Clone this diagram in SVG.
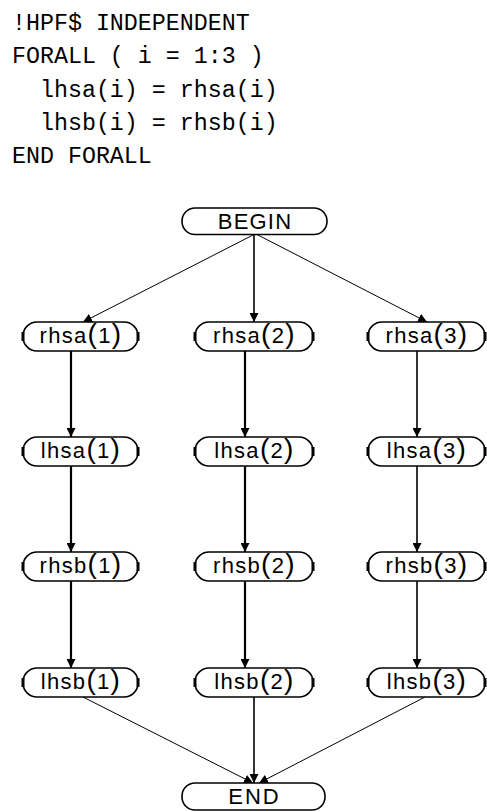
<svg xmlns="http://www.w3.org/2000/svg" width="487" height="811" viewBox="0 0 487 811">
<defs>
<style>
.code{font-family:"Liberation Mono","DejaVu Sans Mono",monospace;font-size:23.3px;fill:#000;white-space:pre}
.box{fill:#fff;stroke:#000;stroke-width:1.6}
.stub{stroke:#000;stroke-width:3}
.lbl{font-family:"Liberation Sans",Arial,sans-serif;font-size:22px;fill:#000;text-anchor:middle;letter-spacing:1.3px}
.par{font-size:28px}
.e{fill:none;stroke:#000}
.thick{stroke-width:2.2}
.med{stroke-width:1.6}
.thin{stroke-width:1}
</style>
<marker id="ah" viewBox="0 0 10 10" refX="10" refY="5" markerWidth="9" markerHeight="9" markerUnits="userSpaceOnUse" orient="auto">
<path d="M0,0 L10,5 L0,10 z" fill="#000"/>
</marker>
</defs>
<g id="code">
<text class="code" x="12" y="30">!HPF$ INDEPENDENT</text>
<text class="code" x="12" y="63">FORALL ( i = 1:3 )</text>
<text class="code" x="12" y="97">  lhsa(i) = rhsa(i)</text>
<text class="code" x="12" y="130">  lhsb(i) = rhsb(i)</text>
<text class="code" x="12" y="163">END FORALL</text>
</g>
<g id="edges">
<line class="e thin" x1="255" y1="234" x2="83" y2="322" marker-end="url(#ah)"/>
<line class="e med" x1="254" y1="234" x2="254" y2="322" marker-end="url(#ah)"/>
<line class="e thin" x1="256" y1="234" x2="427" y2="322" marker-end="url(#ah)"/>
<line class="e thick" x1="71" y1="351" x2="71" y2="437" marker-end="url(#ah)"/>
<line class="e thick" x1="71" y1="466" x2="71" y2="552" marker-end="url(#ah)"/>
<line class="e thick" x1="71" y1="581" x2="71" y2="668" marker-end="url(#ah)"/>
<line class="e thick" x1="245" y1="351" x2="245" y2="437" marker-end="url(#ah)"/>
<line class="e thick" x1="245" y1="466" x2="245" y2="552" marker-end="url(#ah)"/>
<line class="e thick" x1="245" y1="581" x2="245" y2="668" marker-end="url(#ah)"/>
<line class="e med" x1="417" y1="351" x2="417" y2="437" marker-end="url(#ah)"/>
<line class="e med" x1="417" y1="466" x2="417" y2="552" marker-end="url(#ah)"/>
<line class="e med" x1="417" y1="581" x2="417" y2="668" marker-end="url(#ah)"/>
<line class="e thin" x1="83" y1="697" x2="253" y2="783" marker-end="url(#ah)"/>
<line class="e med" x1="254" y1="697" x2="254" y2="783" marker-end="url(#ah)"/>
<line class="e thin" x1="425" y1="697" x2="259" y2="783" marker-end="url(#ah)"/>
</g>
<g id="begin">
<rect class="box" x="182" y="208" width="145" height="26.5" rx="13"/>
<text class="lbl" x="255" y="229" style="letter-spacing:1.2px">BEGIN</text>
</g>
<g id="rhsa1">
<rect class="box" x="23" y="322" width="115" height="29" rx="14"/>
<line class="stub" x1="23" y1="332" x2="23" y2="341"/><line class="stub" x1="138" y1="332" x2="138" y2="341"/>
<text class="lbl" x="81" y="343">rhsa<tspan class="par">(</tspan>1<tspan class="par">)</tspan></text>
</g>
<g id="rhsa2">
<rect class="box" x="195" y="322" width="118" height="29" rx="14"/>
<line class="stub" x1="195" y1="332" x2="195" y2="341"/><line class="stub" x1="313" y1="332" x2="313" y2="341"/>
<text class="lbl" x="254.5" y="343">rhsa<tspan class="par">(</tspan>2<tspan class="par">)</tspan></text>
</g>
<g id="rhsa3">
<rect class="box" x="368" y="322" width="117" height="29" rx="14"/>
<line class="stub" x1="368" y1="332" x2="368" y2="341"/><line class="stub" x1="485" y1="332" x2="485" y2="341"/>
<text class="lbl" x="427" y="343">rhsa<tspan class="par">(</tspan>3<tspan class="par">)</tspan></text>
</g>
<g id="lhsa1">
<rect class="box" x="23" y="437" width="115" height="29" rx="14"/>
<line class="stub" x1="23" y1="447" x2="23" y2="456"/><line class="stub" x1="138" y1="447" x2="138" y2="456"/>
<text class="lbl" x="81" y="458">lhsa<tspan class="par">(</tspan>1<tspan class="par">)</tspan></text>
</g>
<g id="lhsa2">
<rect class="box" x="195" y="437" width="118" height="29" rx="14"/>
<line class="stub" x1="195" y1="447" x2="195" y2="456"/><line class="stub" x1="313" y1="447" x2="313" y2="456"/>
<text class="lbl" x="254.5" y="458">lhsa<tspan class="par">(</tspan>2<tspan class="par">)</tspan></text>
</g>
<g id="lhsa3">
<rect class="box" x="368" y="437" width="117" height="29" rx="14"/>
<line class="stub" x1="368" y1="447" x2="368" y2="456"/><line class="stub" x1="485" y1="447" x2="485" y2="456"/>
<text class="lbl" x="427" y="458">lhsa<tspan class="par">(</tspan>3<tspan class="par">)</tspan></text>
</g>
<g id="rhsb1">
<rect class="box" x="23" y="552" width="115" height="29" rx="14"/>
<line class="stub" x1="23" y1="562" x2="23" y2="571"/><line class="stub" x1="138" y1="562" x2="138" y2="571"/>
<text class="lbl" x="81" y="573">rhsb<tspan class="par">(</tspan>1<tspan class="par">)</tspan></text>
</g>
<g id="rhsb2">
<rect class="box" x="195" y="552" width="118" height="29" rx="14"/>
<line class="stub" x1="195" y1="562" x2="195" y2="571"/><line class="stub" x1="313" y1="562" x2="313" y2="571"/>
<text class="lbl" x="254.5" y="573">rhsb<tspan class="par">(</tspan>2<tspan class="par">)</tspan></text>
</g>
<g id="rhsb3">
<rect class="box" x="368" y="552" width="117" height="29" rx="14"/>
<line class="stub" x1="368" y1="562" x2="368" y2="571"/><line class="stub" x1="485" y1="562" x2="485" y2="571"/>
<text class="lbl" x="427" y="573">rhsb<tspan class="par">(</tspan>3<tspan class="par">)</tspan></text>
</g>
<g id="lhsb1">
<rect class="box" x="23" y="668" width="115" height="29" rx="14"/>
<line class="stub" x1="23" y1="678" x2="23" y2="687"/><line class="stub" x1="138" y1="678" x2="138" y2="687"/>
<text class="lbl" x="81" y="689">lhsb<tspan class="par">(</tspan>1<tspan class="par">)</tspan></text>
</g>
<g id="lhsb2">
<rect class="box" x="195" y="668" width="118" height="29" rx="14"/>
<line class="stub" x1="195" y1="678" x2="195" y2="687"/><line class="stub" x1="313" y1="678" x2="313" y2="687"/>
<text class="lbl" x="254.5" y="689">lhsb<tspan class="par">(</tspan>2<tspan class="par">)</tspan></text>
</g>
<g id="lhsb3">
<rect class="box" x="368" y="668" width="117" height="29" rx="14"/>
<line class="stub" x1="368" y1="678" x2="368" y2="687"/><line class="stub" x1="485" y1="678" x2="485" y2="687"/>
<text class="lbl" x="427" y="689">lhsb<tspan class="par">(</tspan>3<tspan class="par">)</tspan></text>
</g>
<g id="end">
<rect class="box" x="182" y="783" width="143" height="27" rx="13"/>
<text class="lbl" x="254.5" y="804" style="letter-spacing:2px">END</text>
</g>
</svg>
